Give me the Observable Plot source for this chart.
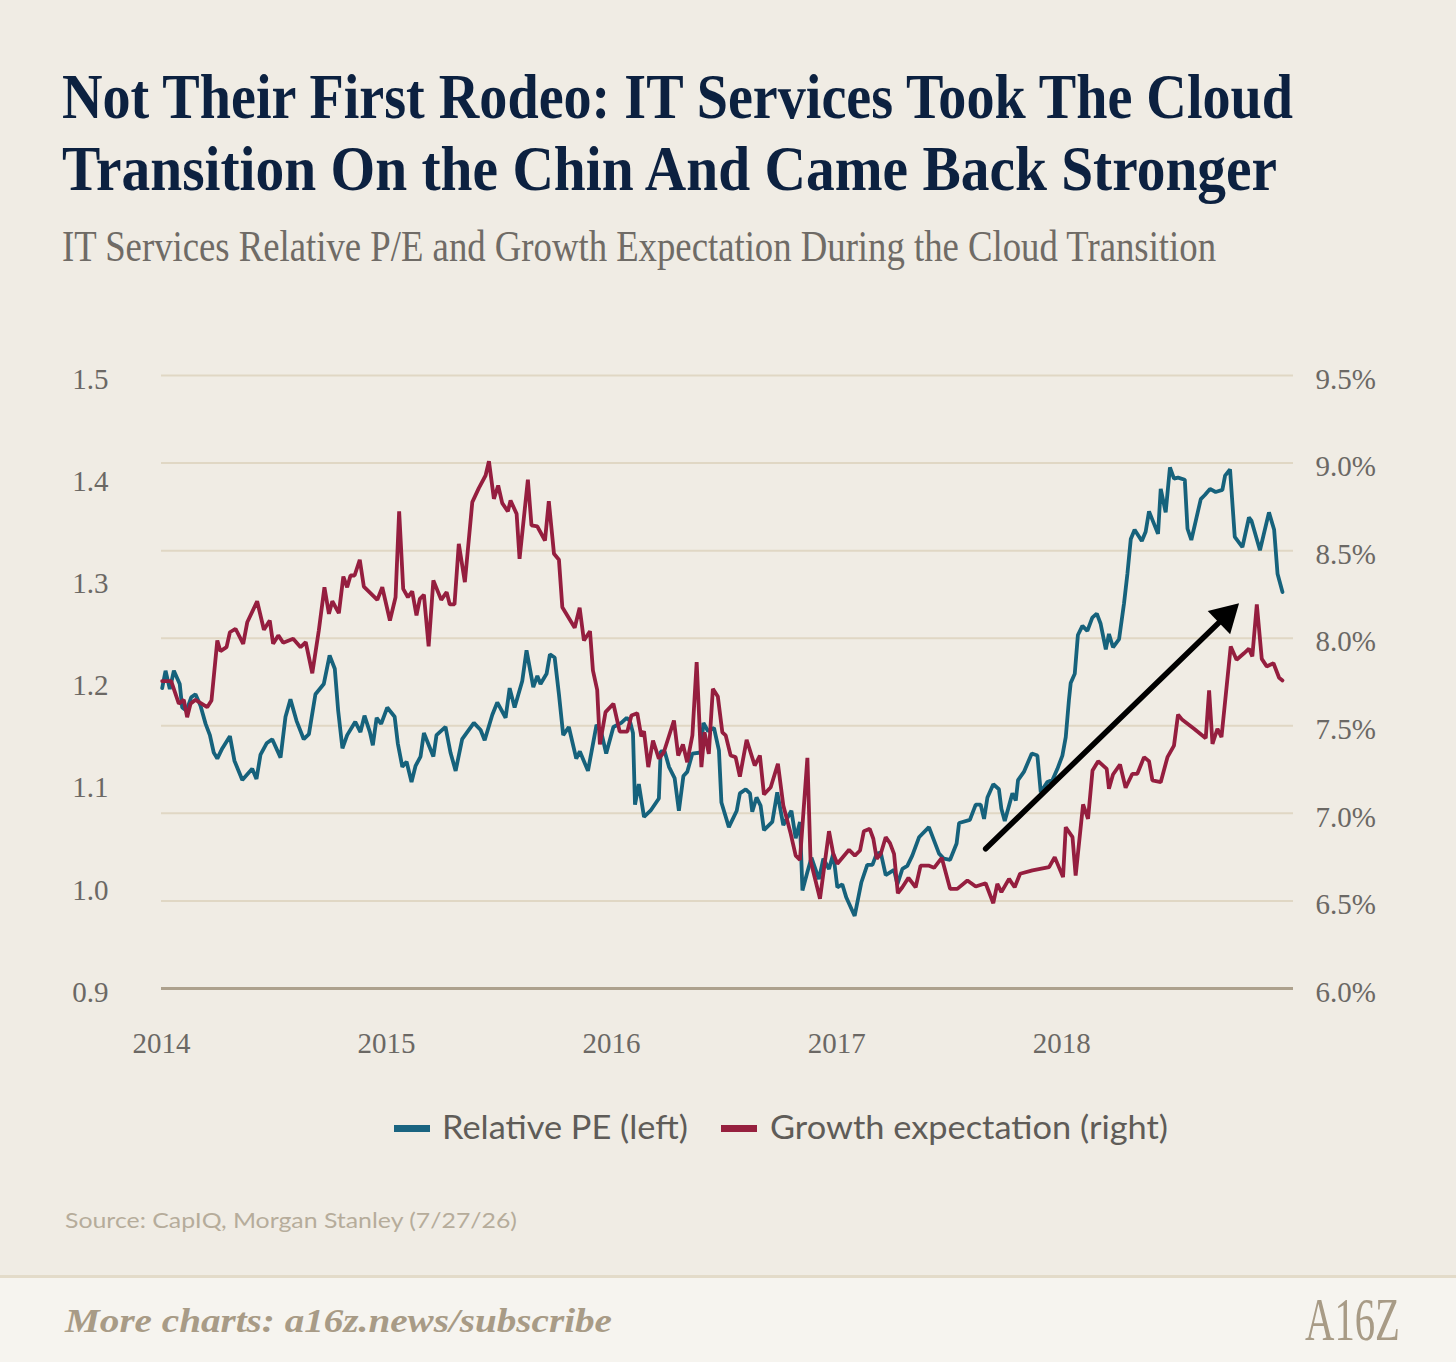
<!DOCTYPE html>
<html>
<head>
<meta charset="utf-8">
<script src="https://cdn.jsdelivr.net/npm/d3@7"></script>
<script src="https://cdn.jsdelivr.net/npm/@observablehq/plot@0.6"></script>
<style>
  html, body { margin:0; padding:0; }
  body { width:1456px; height:1362px; background:#f0ece4; position:relative; overflow:hidden; }
  .abs { position:absolute; white-space:nowrap; line-height:1; transform-origin:0 0; }
  #t1, #t2 { font-family:"Liberation Serif", serif; font-weight:700; font-size:64px; color:#0c2140; }
  #sub { font-family:"Liberation Serif", serif; font-weight:400; font-size:44px; color:#6f6b66; }
  .lt { font-family:Lato, sans-serif; font-size:33px; color:#5f5c58; }
  .sw { position:absolute; width:36px; height:7px; }
  #source { font-family:Lato, sans-serif; font-size:22px; color:#b6ac9b; }
  #footer { position:absolute; left:0; top:1275px; width:1456px; height:87px; background:#f6f4ef; border-top:3px solid #e3dbc9; }
  #more { font-family:"Liberation Serif", serif; font-style:italic; font-weight:700; font-size:34px; color:#a89b86; }
  #logo { font-family:"Liberation Serif", serif; font-weight:400; font-size:62px; color:#a89b86; }
  #chart { position:absolute; left:0; top:330px; }
</style>
</head>
<body>
<div id="t1" class="abs" style="left:62px; top:65px;">Not Their First Rodeo: IT Services Took The Cloud</div>
<div id="t2" class="abs" style="left:62px; top:137px;">Transition On the Chin And Came Back Stronger</div>
<div id="sub" class="abs" style="left:62px; top:225px;">IT Services Relative P/E and Growth Expectation During the Cloud Transition</div>
<div id="chart"></div>
<span class="sw" style="left:394px; top:1125px; background:#1a6480"></span>
<div id="lg1" class="abs lt" style="left:442px; top:1110px;">Relative PE (left)</div>
<span class="sw" style="left:721px; top:1125px; background:#96203e"></span>
<div id="lg2" class="abs lt" style="left:770px; top:1110px;">Growth expectation (right)</div>
<div id="source" class="abs" style="left:65px; top:1209px;">Source: CapIQ, Morgan Stanley (7/27/26)</div>
<div id="footer"></div>
<div id="more" class="abs" style="left:65px; top:1304px;">More charts: a16z.news/subscribe</div>
<div id="logo" class="abs" style="left:1305px; top:1288px;">A16Z</div>
<script>
// ---------- data ----------
const xTicks = [2014, 2015, 2016, 2017, 2018];
const rightTicks = [6.0, 6.5, 7.0, 7.5, 8.0, 8.5, 9.0, 9.5];   // growth expectation, %
const leftTicks = [0.9, 1.0, 1.1, 1.2, 1.3, 1.4, 1.5];         // relative P/E

// Relative PE (left axis): [date (decimal year), value]
const relativePE = [
[2014.003,1.194],[2014.018,1.211],[2014.037,1.193],[2014.055,1.211],[2014.081,1.198],[2014.092,1.175],[2014.111,1.172],[2014.132,1.185],[2014.151,1.188],[2014.173,1.177],
[2014.196,1.159],[2014.215,1.148],[2014.232,1.131],[2014.248,1.125],[2014.270,1.135],[2014.304,1.147],[2014.324,1.123],[2014.359,1.104],[2014.403,1.115],[2014.422,1.105],
[2014.440,1.129],[2014.467,1.140],[2014.492,1.144],[2014.529,1.126],[2014.551,1.166],[2014.573,1.183],[2014.600,1.162],[2014.632,1.144],[2014.655,1.149],[2014.684,1.188],
[2014.721,1.198],[2014.747,1.226],[2014.770,1.213],[2014.785,1.172],[2014.804,1.135],[2014.825,1.148],[2014.861,1.161],[2014.884,1.151],[2014.902,1.167],[2014.926,1.151],
[2014.939,1.138],[2014.956,1.165],[2014.976,1.159],[2015.003,1.175],[2015.036,1.166],[2015.050,1.140],[2015.070,1.117],[2015.089,1.122],[2015.111,1.102],[2015.129,1.118],
[2015.151,1.127],[2015.166,1.150],[2015.208,1.127],[2015.222,1.148],[2015.262,1.156],[2015.284,1.131],[2015.307,1.113],[2015.336,1.144],[2015.388,1.160],[2015.418,1.153],
[2015.436,1.143],[2015.470,1.168],[2015.492,1.180],[2015.529,1.165],[2015.547,1.194],[2015.569,1.175],[2015.603,1.201],[2015.622,1.231],[2015.652,1.195],[2015.670,1.206],
[2015.684,1.198],[2015.711,1.208],[2015.726,1.227],[2015.747,1.224],[2015.766,1.188],[2015.785,1.148],[2015.810,1.156],[2015.843,1.125],[2015.859,1.132],[2015.895,1.113],
[2015.933,1.158],[2015.954,1.151],[2015.976,1.130],[2016.008,1.156],[2016.043,1.160],[2016.067,1.165],[2016.081,1.162],[2016.095,1.150],[2016.104,1.080],[2016.121,1.100],
[2016.144,1.068],[2016.173,1.074],[2016.210,1.086],[2016.218,1.132],[2016.236,1.132],[2016.255,1.117],[2016.280,1.106],[2016.299,1.074],[2016.319,1.108],[2016.336,1.112],
[2016.359,1.130],[2016.396,1.131],[2016.408,1.160],[2016.428,1.152],[2016.455,1.155],[2016.477,1.133],[2016.488,1.082],[2016.521,1.058],[2016.556,1.074],[2016.570,1.091],
[2016.596,1.095],[2016.615,1.091],[2016.625,1.073],[2016.644,1.087],[2016.662,1.079],[2016.677,1.055],[2016.714,1.063],[2016.736,1.092],[2016.763,1.060],[2016.799,1.074],
[2016.818,1.047],[2016.837,1.063],[2016.848,0.996],[2016.870,1.014],[2016.888,1.028],[2016.921,1.007],[2016.941,1.027],[2016.966,1.017],[2016.985,1.032],[2017.003,0.999],
[2017.025,1.002],[2017.043,0.989],[2017.080,0.971],[2017.110,1.004],[2017.136,1.021],[2017.159,1.021],[2017.178,1.032],[2017.196,1.033],[2017.218,1.011],[2017.255,1.016],
[2017.270,1.002],[2017.292,1.017],[2017.314,1.020],[2017.336,1.030],[2017.366,1.048],[2017.410,1.058],[2017.455,1.032],[2017.477,1.027],[2017.504,1.026],[2017.533,1.042],
[2017.544,1.062],[2017.592,1.065],[2017.618,1.080],[2017.640,1.080],[2017.655,1.066],[2017.670,1.087],[2017.696,1.100],[2017.721,1.095],[2017.732,1.076],[2017.747,1.064],
[2017.766,1.079],[2017.781,1.091],[2017.796,1.084],[2017.806,1.104],[2017.832,1.112],[2017.867,1.130],[2017.892,1.128],[2017.907,1.092],[2017.936,1.102],[2017.959,1.104],
[2017.981,1.115],[2018.003,1.128],[2018.018,1.146],[2018.032,1.182],[2018.040,1.199],[2018.058,1.208],[2018.072,1.246],[2018.092,1.255],[2018.114,1.250],[2018.136,1.263],
[2018.156,1.267],[2018.173,1.257],[2018.196,1.232],[2018.210,1.247],[2018.228,1.234],[2018.255,1.242],[2018.277,1.277],[2018.292,1.306],[2018.307,1.340],[2018.324,1.349],
[2018.356,1.338],[2018.373,1.347],[2018.388,1.367],[2018.428,1.345],[2018.440,1.389],[2018.462,1.366],[2018.481,1.410],[2018.499,1.399],[2018.517,1.400],[2018.547,1.398],
[2018.559,1.350],[2018.576,1.339],[2018.596,1.358],[2018.618,1.379],[2018.636,1.383],[2018.659,1.389],[2018.684,1.386],[2018.714,1.388],[2018.726,1.402],[2018.748,1.408],
[2018.769,1.342],[2018.803,1.332],[2018.832,1.361],[2018.843,1.358],[2018.881,1.329],[2018.921,1.366],[2018.944,1.349],[2018.959,1.306],[2018.981,1.288]
];

// Growth expectation (right axis, %): [date (decimal year), value]
const growthExpectation = [
[2014.003,7.755],[2014.043,7.755],[2014.077,7.626],[2014.099,7.648],[2014.114,7.549],[2014.129,7.626],[2014.151,7.648],[2014.203,7.606],[2014.222,7.644],[2014.248,7.987],
[2014.262,7.926],[2014.289,7.949],[2014.304,8.034],[2014.329,8.054],[2014.363,7.968],[2014.381,8.091],[2014.425,8.211],[2014.455,8.048],[2014.481,8.101],[2014.496,7.968],
[2014.519,8.016],[2014.541,7.974],[2014.585,7.997],[2014.618,7.949],[2014.641,7.977],[2014.670,7.800],[2014.699,8.044],[2014.724,8.291],[2014.744,8.139],[2014.759,8.211],
[2014.788,8.143],[2014.808,8.352],[2014.825,8.291],[2014.840,8.358],[2014.858,8.358],[2014.881,8.448],[2014.899,8.295],[2014.959,8.219],[2014.981,8.291],[2015.015,8.101],
[2015.040,8.234],[2015.056,8.725],[2015.074,8.282],[2015.095,8.234],[2015.114,8.267],[2015.133,8.130],[2015.148,8.225],[2015.166,8.248],[2015.187,7.953],[2015.208,8.330],
[2015.243,8.219],[2015.267,8.263],[2015.281,8.193],[2015.302,8.193],[2015.321,8.539],[2015.348,8.320],[2015.381,8.777],[2015.410,8.857],[2015.440,8.929],[2015.455,9.011],
[2015.477,8.796],[2015.496,8.872],[2015.514,8.771],[2015.539,8.724],[2015.551,8.786],[2015.578,8.710],[2015.591,8.453],[2015.628,8.905],[2015.644,8.644],[2015.670,8.638],
[2015.704,8.558],[2015.721,8.782],[2015.744,8.482],[2015.766,8.448],[2015.781,8.177],[2015.836,8.060],[2015.858,8.174],[2015.877,7.987],[2015.904,8.040],[2015.917,7.816],
[2015.936,7.705],[2015.948,7.393],[2015.973,7.578],[2016.008,7.626],[2016.036,7.467],[2016.070,7.467],[2016.088,7.559],[2016.114,7.572],[2016.132,7.439],[2016.144,7.469],
[2016.163,7.264],[2016.184,7.416],[2016.210,7.312],[2016.232,7.349],[2016.277,7.530],[2016.296,7.330],[2016.317,7.393],[2016.336,7.292],[2016.359,7.445],[2016.378,7.863],
[2016.399,7.264],[2016.413,7.463],[2016.432,7.340],[2016.450,7.711],[2016.472,7.667],[2016.492,7.463],[2016.507,7.445],[2016.529,7.330],[2016.551,7.321],[2016.570,7.210],
[2016.600,7.420],[2016.636,7.273],[2016.659,7.330],[2016.677,7.108],[2016.707,7.149],[2016.739,7.283],[2016.763,7.045],[2016.796,6.883],[2016.818,6.759],[2016.837,6.735],
[2016.870,7.317],[2016.884,6.731],[2016.926,6.512],[2016.966,6.898],[2016.985,6.769],[2017.003,6.712],[2017.055,6.792],[2017.081,6.759],[2017.104,6.788],[2017.121,6.898],
[2017.147,6.912],[2017.163,6.855],[2017.178,6.741],[2017.196,6.769],[2017.218,6.864],[2017.237,6.830],[2017.255,6.769],[2017.272,6.544],[2017.292,6.578],[2017.319,6.632],
[2017.351,6.578],[2017.373,6.702],[2017.408,6.702],[2017.433,6.689],[2017.467,6.746],[2017.504,6.569],[2017.536,6.569],[2017.581,6.617],[2017.618,6.582],[2017.662,6.601],
[2017.696,6.487],[2017.714,6.598],[2017.732,6.550],[2017.766,6.626],[2017.791,6.578],[2017.815,6.655],[2017.870,6.674],[2017.944,6.693],[2017.969,6.750],[2018.006,6.636],
[2018.018,6.921],[2018.048,6.864],[2018.062,6.645],[2018.095,7.051],[2018.117,6.969],[2018.137,7.245],[2018.162,7.298],[2018.200,7.254],[2018.210,7.140],[2018.228,7.222],
[2018.259,7.279],[2018.284,7.146],[2018.314,7.226],[2018.336,7.226],[2018.366,7.321],[2018.388,7.298],[2018.403,7.188],[2018.440,7.178],[2018.470,7.321],[2018.499,7.387],
[2018.517,7.564],[2018.536,7.534],[2018.588,7.483],[2018.640,7.429],[2018.655,7.702],[2018.670,7.397],[2018.692,7.483],[2018.710,7.435],[2018.751,7.953],[2018.777,7.877],
[2018.810,7.914],[2018.832,7.940],[2018.847,7.896],[2018.867,8.193],[2018.889,7.882],[2018.911,7.839],[2018.941,7.857],[2018.966,7.774],[2018.981,7.759]
];

// annotation arrow (x in decimal years, y in right-axis % units)
const arrowTail = [2017.662, 6.798];
const arrowTip = [2018.788, 8.200];

// ---------- scale bridging: left axis (P/E 0.9–1.5) shares the frame with right axis (6.0–9.5%) ----------
const toRight = v => 6 + (v - 0.9) / 0.6 * 3.5;
const toLeft = r => 0.9 + (r - 6) / 3.5 * 0.6;

const peData = relativePE.map(([date, value]) => ({date, value, y: toRight(value)}));
const gData = growthExpectation.map(([date, value]) => ({date, value, y: value}));
const arrowData = [{x1: arrowTail[0], y1: arrowTail[1], x2: arrowTip[0], y2: arrowTip[1]}];

const plot = Plot.plot({
  width: 1456,
  height: 738,
  marginLeft: 161,
  marginRight: 163,
  marginTop: 45,
  marginBottom: 80,
  x: {domain: [2014, 2019.03]},
  y: {domain: [6, 9.5]},
  style: {background: "transparent", fontFamily: "Liberation Serif, serif", fontSize: "29px", color: "#6b6864", overflow: "visible"},
  marks: [
    Plot.ruleY(rightTicks.filter(d => d > 6), {stroke: "#e0d7c4", strokeWidth: 2}),
    Plot.ruleY([6], {stroke: "#ada18d", strokeWidth: 3}),
    Plot.axisY(rightTicks, {anchor: "right", tickSize: 0, tickPadding: 22, dy: 4, tickFormat: d => d.toFixed(1) + "%", label: null}),
    Plot.axisY(leftTicks.map(toRight), {anchor: "left", tickSize: 0, tickPadding: 53, dy: 4, tickFormat: d => toLeft(d).toFixed(1), label: null}),
    Plot.axisX(xTicks, {anchor: "bottom", tickSize: 0, tickPadding: 44, tickFormat: d => String(d), label: null}),
    Plot.line(peData, {x: "date", y: "y", stroke: "#16627c", strokeWidth: 3.8, strokeLinejoin: "miter"}),
    Plot.line(gData, {x: "date", y: "y", stroke: "#951e3f", strokeWidth: 3.8, strokeLinejoin: "miter"}),
    Plot.arrow(arrowData, {x1: "x1", y1: "y1", x2: "x2", y2: "y2", stroke: "black", strokeWidth: 5.5, headLength: 0, insetEnd: 16}),
    Plot.dot([arrowTip], {x: d => d[0], y: d => d[1], symbol: "triangle", r: 12, fill: "black", stroke: "none", rotate: 46, dx: -13.4, dy: 13})
  ]
});
document.getElementById("chart").appendChild(plot);

// ---------- fit text widths to the reference layout ----------
function fitWidth(id, w) {
  const el = document.getElementById(id);
  const cur = el.getBoundingClientRect().width;
  if (cur > 0) el.style.transform = `scaleX(${w / cur})`;
}
fitWidth("t1", 1231);
fitWidth("t2", 1215);
fitWidth("sub", 1154);
fitWidth("lg1", 246);
fitWidth("lg2", 398);
fitWidth("source", 452);
fitWidth("more", 547);
fitWidth("logo", 95);
</script>
</body>
</html>
